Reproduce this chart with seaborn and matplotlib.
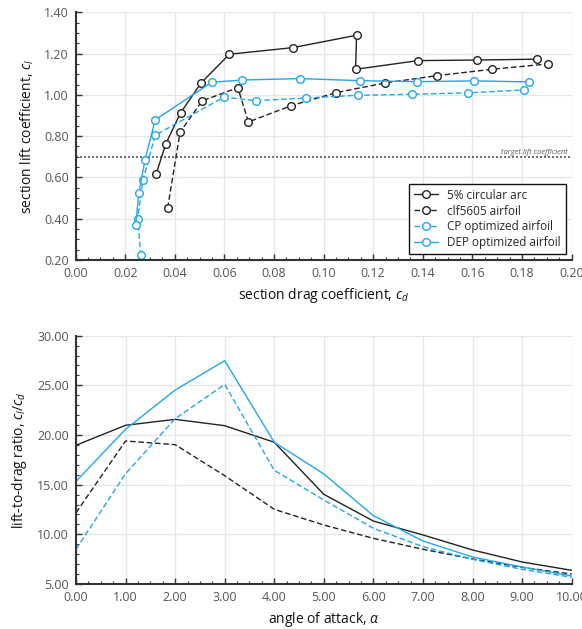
import numpy as np
import matplotlib
matplotlib.use('Agg')
import matplotlib.pyplot as plt
from matplotlib.ticker import MultipleLocator, FormatStrFormatter
import seaborn as sns

# drag polars, angle of attack 0..10 deg
arc_cd = [0.0325, 0.0364, 0.0423, 0.0506, 0.0620, 0.0876, 0.1133, 0.1129, 0.1381, 0.1620, 0.1860]
arc_cl = [0.618, 0.764, 0.913, 1.058, 1.197, 1.229, 1.289, 1.124, 1.166, 1.169, 1.173]
clf_cd = [0.0371, 0.0421, 0.0510, 0.0654, 0.0697, 0.0870, 0.1051, 0.1248, 0.1456, 0.1678, 0.1906]
clf_cl = [0.452, 0.819, 0.971, 1.035, 0.869, 0.948, 1.011, 1.058, 1.093, 1.124, 1.150]
cp_cd = [0.0263, 0.0250, 0.0271, 0.0321, 0.0598, 0.0726, 0.0929, 0.1137, 0.1358, 0.1583, 0.1810]
cp_cl = [0.222, 0.400, 0.587, 0.805, 0.989, 0.972, 0.985, 0.998, 1.003, 1.010, 1.024]
dep_cd = [0.0242, 0.0255, 0.0280, 0.0321, 0.0548, 0.0670, 0.0903, 0.1146, 0.1377, 0.1605, 0.1828]
dep_cl = [0.370, 0.526, 0.687, 0.879, 1.061, 1.072, 1.079, 1.069, 1.064, 1.068, 1.063]

# lift-to-drag ratio vs angle of attack
alpha = [0, 1, 2, 3, 4, 5, 6, 7, 8, 9, 10]
arc_ld = [18.97, 20.98, 21.58, 20.94, 19.27, 14.03, 11.34, 9.94, 8.43, 7.22, 6.38]
clf_ld = [12.18, 19.40, 19.03, 15.91, 12.52, 10.94, 9.60, 8.50, 7.52, 6.68, 6.01]
cp_ld = [8.50, 16.11, 21.64, 25.10, 16.45, 13.46, 10.61, 8.76, 7.49, 6.48, 5.68]
dep_ld = [15.34, 20.58, 24.53, 27.48, 19.27, 16.08, 11.88, 9.33, 7.72, 6.71, 5.81]

target_cl = 0.70

BLACK = '#222222'
BLUE = '#22a6ee'
DASH = (0, (4, 2))

sns.set_theme(style='whitegrid')
plt.rcParams['font.family'] = ['Open Sans', 'DejaVu Sans']
plt.rcParams['mathtext.fontset'] = 'custom'
plt.rcParams['mathtext.rm'] = 'Open Sans'
plt.rcParams['mathtext.it'] = 'Open Sans:italic'

fig = plt.figure(figsize=(5.82, 6.29), dpi=100)
ax1 = fig.add_axes([0.130, 0.5866, 0.852, 0.3938])
ax2 = fig.add_axes([0.1306, 0.0715, 0.8516, 0.3948])

series = [
    (arc_cd, arc_cl, arc_ld, BLACK, '-', '5% circular arc'),
    (clf_cd, clf_cl, clf_ld, BLACK, DASH, 'clf5605 airfoil'),
    (cp_cd, cp_cl, cp_ld, BLUE, DASH, 'CP optimized airfoil'),
    (dep_cd, dep_cl, dep_ld, BLUE, '-', 'DEP optimized airfoil'),
]

for cd, cl, ld, col, ls, name in series:
    sns.lineplot(x=cd, y=cl, sort=False, ax=ax1, color=col, linestyle=ls, lw=1.0,
                 marker='o', markersize=5.5, markerfacecolor='white',
                 markeredgecolor=col, markeredgewidth=1.0, label=name)
    sns.lineplot(x=alpha, y=ld, ax=ax2, color=col, linestyle=ls, lw=1.0, legend=False)

ax1.axhline(target_cl, color='#555555', ls=(0, (1.2, 1.2)), lw=1.2, zorder=1)
ax1.text(0.1985, target_cl + 0.004, 'target lift coefficient', ha='right', va='bottom',
         fontsize=5.5, style='italic', color='#555555')

ax1.set_xlim(0, 0.20)
ax1.set_ylim(0.20, 1.40)
ax1.xaxis.set_major_locator(MultipleLocator(0.02))
ax1.xaxis.set_minor_locator(MultipleLocator(0.005))
ax1.yaxis.set_major_locator(MultipleLocator(0.20))
ax1.yaxis.set_minor_locator(MultipleLocator(0.05))
ax1.set_xlabel('section drag coefficient, $c_d$', fontsize=10, color='#111111', labelpad=4)
ax1.set_ylabel('section lift coefficient, $c_l$', fontsize=10, color='#111111', labelpad=6)

leg = ax1.legend(loc='lower right', fontsize=8.5, fancybox=False, framealpha=1,
                 edgecolor='#111111', handlelength=2.0, borderpad=0.4, labelspacing=0.25)
leg.get_frame().set_linewidth(1.0)

ax2.set_xlim(0, 10)
ax2.set_ylim(5, 30)
ax2.xaxis.set_major_locator(MultipleLocator(1))
ax2.xaxis.set_minor_locator(MultipleLocator(0.25))
ax2.yaxis.set_major_locator(MultipleLocator(5))
ax2.yaxis.set_minor_locator(MultipleLocator(1))
ax2.set_xlabel(r'angle of attack, $\alpha$', fontsize=10, color='#111111', labelpad=4)
ax2.set_ylabel('lift-to-drag ratio, $c_l/c_d$', fontsize=10, color='#111111', labelpad=6)

for ax in (ax1, ax2):
    ax.set_facecolor('white')
    ax.xaxis.set_major_formatter(FormatStrFormatter('%.2f'))
    ax.yaxis.set_major_formatter(FormatStrFormatter('%.2f'))
    ax.grid(True, which='major', color='#e6e6e6', lw=0.9)
    ax.grid(False, which='minor')
    for s in ('top', 'right'):
        ax.spines[s].set_visible(False)
    for s in ('left', 'bottom'):
        ax.spines[s].set_color('#333333')
        ax.spines[s].set_linewidth(1.5)
    ax.tick_params(which='major', direction='in', length=4, width=1, color='#333333',
                   labelsize=9, labelcolor='#555555', bottom=True, left=True, pad=5)
    ax.tick_params(which='minor', direction='in', length=2.5, width=0.8, color='#333333',
                   bottom=True, left=True)
    ax.set_axisbelow(True)

fig.savefig('out.png', dpi=100)
